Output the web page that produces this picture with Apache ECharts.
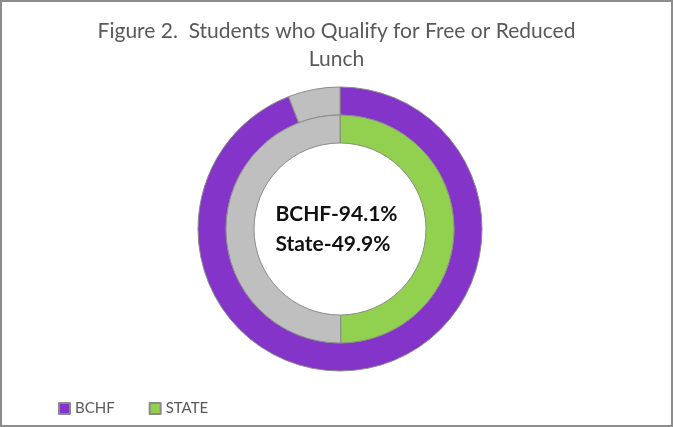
<!DOCTYPE html>
<html>
<head>
<meta charset="utf-8">
<script src="https://cdn.jsdelivr.net/npm/echarts@6/dist/echarts.min.js"></script>
<style>
  html, body { margin: 0; padding: 0; background: #fff; }
  #chart { width: 673px; height: 427px; box-sizing: border-box; border: 2px solid #8c8c8c; }
</style>
</head>
<body>
<div id="chart"></div>
<script>
  // values
  var seriesNames = ['BCHF', 'STATE'];
  var centerLabels = ['BCHF', 'State'];
  var bchfShare = [94.1, 5.9];
  var stateShare = [49.9, 50.1];
  var colors = ['#8434c8', '#92d050', '#bfbfbf'];

  var chart = echarts.init(document.getElementById('chart'));

  var centerText = centerLabels[0] + '-' + bchfShare[0] + '%\n' + centerLabels[1] + '-' + stateShare[0].toFixed(1) + '%';

  var option = {
    animation: false,
    title: {
      text: 'Figure 2.  Students who Qualify for Free or Reduced\nLunch',
      left: 'center',
      top: 10,
      textStyle: {
        color: '#595959',
        fontFamily: 'Lato',
        fontWeight: 'normal',
        fontSize: 21,
        lineHeight: 28
      }
    },
    legend: {
      data: [
        { name: seriesNames[0], itemStyle: { color: colors[0] } },
        { name: seriesNames[1], itemStyle: { color: colors[1] } }
      ],
      left: 56,
      top: 399,
      padding: 0,
      icon: 'rect',
      itemWidth: 11,
      itemHeight: 11,
      itemGap: 34,
      textStyle: { color: '#595959', fontFamily: 'Lato', fontSize: 15 }
    },
    graphic: [{
      type: 'text',
      left: 'center',
      top: 197,
      style: {
        text: centerText,
        fill: '#111',
        font: 'bold 21px Lato',
        lineHeight: 30,
        align: 'center'
      }
    }],
    series: [{
      name: 'BCHF',
      type: 'pie',
      center: [338, 227],
      radius: [114, 142],
      startAngle: 90,
      silent: true,
      label: { show: false },
      labelLine: { show: false },
      itemStyle: { borderColor: '#8a8a8a', borderWidth: 1 },
      data: [
        { name: seriesNames[0], value: bchfShare[0], itemStyle: { color: colors[0] } },
        { name: 'BCHF rest', value: bchfShare[1], itemStyle: { color: colors[2] } }
      ]
    }, {
      name: 'STATE',
      type: 'pie',
      center: [338, 227],
      radius: [86, 114],
      startAngle: 90,
      silent: true,
      label: { show: false },
      labelLine: { show: false },
      itemStyle: { borderColor: '#8a8a8a', borderWidth: 1 },
      data: [
        { name: seriesNames[1], value: stateShare[0], itemStyle: { color: colors[1] } },
        { name: 'STATE rest', value: stateShare[1], itemStyle: { color: colors[2] } }
      ]
    }]
  };

  chart.setOption(option);
</script>
</body>
</html>
